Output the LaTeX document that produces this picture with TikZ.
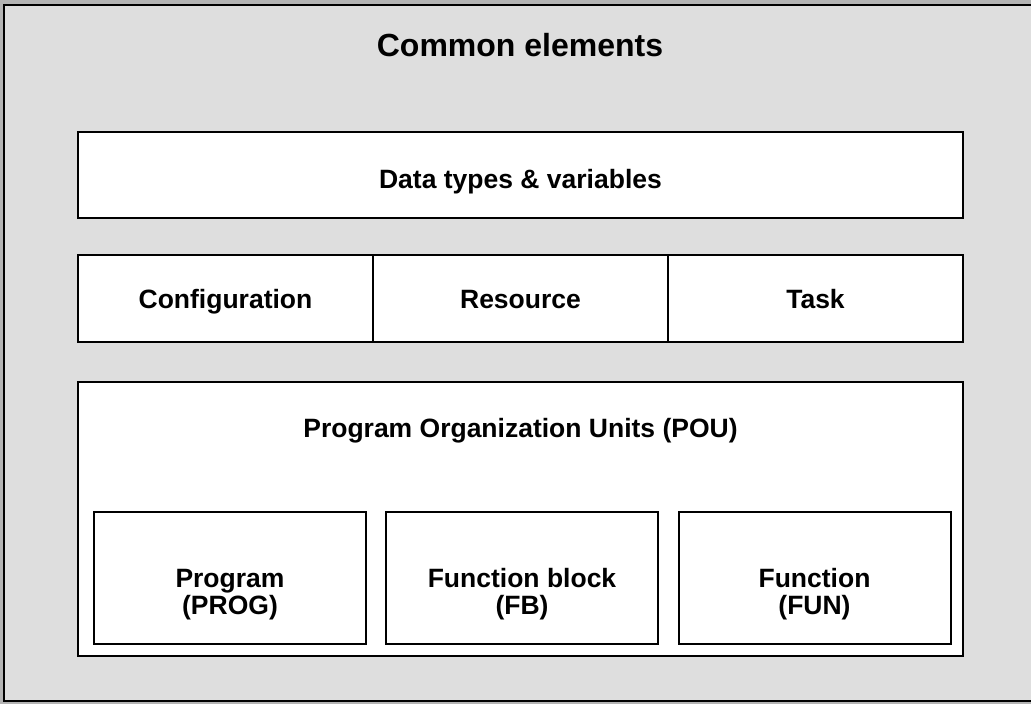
\documentclass[tikz,border=0pt]{standalone}
\usepackage{fontspec}
\setmainfont{Liberation Sans}
\definecolor{paneback}{HTML}{DEDEDE}
\definecolor{pageback}{HTML}{B4B4B4}
\tikzset{
  panel/.style={draw=black, line width=2pt, fill=white, inner sep=0pt},
  label/.style={font=\bfseries\fontsize{26.5}{27}\selectfont, align=center, inner sep=0pt, anchor=base},
  heading/.style={font=\bfseries\fontsize{32}{36}\selectfont, inner sep=0pt, anchor=base}
}
\begin{document}
\begin{tikzpicture}[x=1pt, y=-1pt]
  \useasboundingbox (0,0) rectangle (1031,704);
  \clip (0,0) rectangle (1031,704);
  \fill[pageback] (0,0) rectangle (1031,704);
  % outer frame of the common elements
  \draw[line width=2pt, fill=paneback] (4,5) rectangle (1040,701);
  \node[heading] (title) at (520,56) {Common elements};

  % data types
  \node[panel, minimum width=885pt, minimum height=86pt] (data) at (520.5,175) {};
  \node[label] (datatxt) at (520.5,188) {Data types \& variables};

  % configuration / resource / task row
  \node[panel, minimum width=295pt, minimum height=87pt] (conf) at (225.5,298.5) {};
  \node[panel, minimum width=295pt, minimum height=87pt] (res) at (520.5,298.5) {};
  \node[panel, minimum width=295pt, minimum height=87pt] (task) at (815.5,298.5) {};
  \node[label] (conftxt) at (225.5,308) {Configuration};
  \node[label] (restxt) at (520.5,308) {Resource};
  \node[label] (tasktxt) at (815.5,308) {Task};

  % program organization units
  \node[panel, minimum width=885pt, minimum height=274pt] (pou) at (520.5,519) {};
  \node[label] (poutxt) at (520.5,437) {Program Organization Units (POU)};

  \node[panel, minimum width=272pt, minimum height=132pt] (prog) at (230,578) {};
  \node[panel, minimum width=272pt, minimum height=132pt] (fb) at (522,578) {};
  \node[panel, minimum width=272pt, minimum height=132pt] (fun) at (814.5,578) {};
  % base of a two-line label is the baseline of its second line
  \node[label] (progtxt) at (230,614) {Program\\(PROG)};
  \node[label] (fbtxt) at (522,614) {Function block\\(FB)};
  \node[label] (funtxt) at (814.5,614) {Function\\(FUN)};
\end{tikzpicture}
\end{document}
